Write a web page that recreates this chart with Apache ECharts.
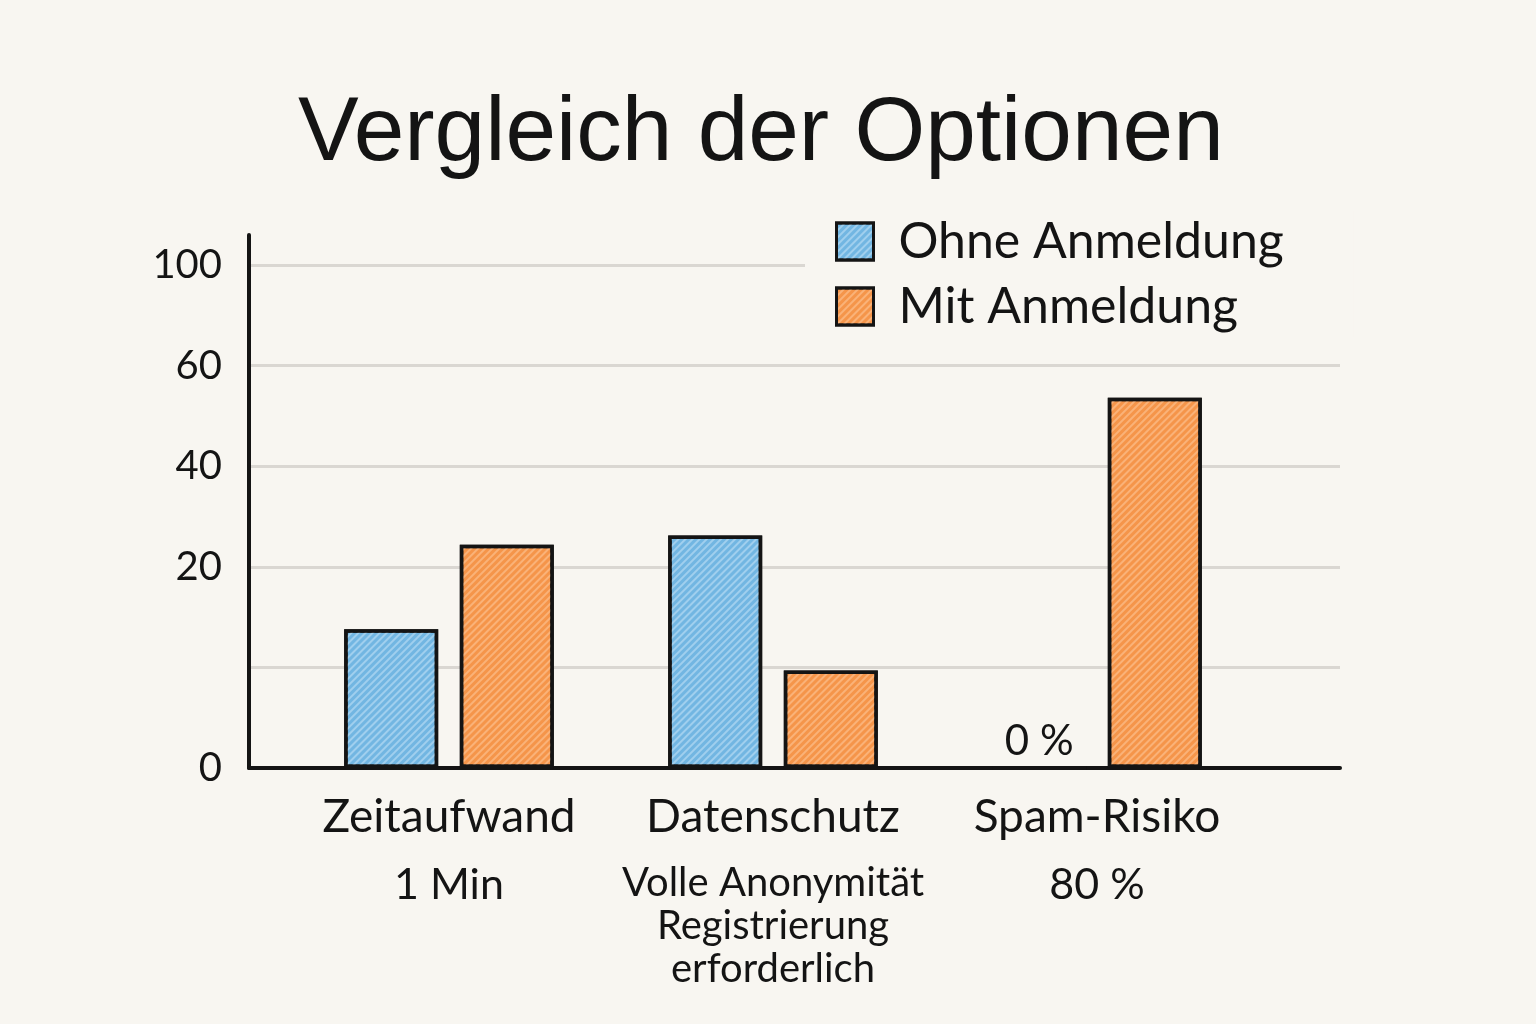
<!DOCTYPE html>
<html><head><meta charset="utf-8">
<script src="https://cdn.jsdelivr.net/npm/echarts@6/dist/echarts.min.js"></script>
<style>html,body{margin:0;padding:0;background:#f8f6f1}#c{width:1536px;height:1024px}</style>
</head><body><div id="c"></div>
<script>
// ---- data ----
const categories = ['Zeitaufwand', 'Datenschutz', 'Spam-Risiko'];
const categoryNotes = [['1 Min'], ['Volle Anonymität', 'Registrierung', 'erforderlich'], ['80 %']];
// the y axis has evenly spaced gridlines; values are given in gridline steps
const yTickLabels = ['0', '', '20', '40', '60', '100'];
const seriesNames = ['Ohne Anmeldung', 'Mit Anmeldung'];
const ohneAnmeldung = [1.38, 2.31, 0];
const mitAnmeldung = [2.22, 0.97, 3.68];
const ohneLabels = [null, null, '0 %'];

const BG = '#f8f6f1';
const INK = '#141414';
const FONT = 'Lato';

function decal(color) {
  return { symbol: 'rect', symbolSize: 1, dashArrayX: [[1, 0]], dashArrayY: [2, 3],
           rotation: -Math.PI / 4, color: color };
}

const chart = echarts.init(document.getElementById('c'), null, { renderer: 'canvas' });
chart.setOption({
  backgroundColor: BG,
  aria: { enabled: true, decal: { show: true } },
  animation: false,
  title: {
    text: 'Vergleich der Optionen', left: 293, top: 84,
    textStyle: { fontFamily: 'Liberation Sans', fontSize: 91, fontWeight: 'normal', color: INK }
  },
  legend: {
    data: seriesNames, orient: 'vertical', left: 805, top: 211.5,
    padding: [5, 70, 5, 30], backgroundColor: BG,
    itemWidth: 37, itemHeight: 37, itemGap: 15, icon: 'rect',
    itemStyle: { borderColor: INK, borderWidth: 3 },
    textStyle: { fontFamily: FONT, fontSize: 50, lineHeight: 48, color: INK, padding: [0, 0, 0, 20] }
  },
  grid: [
    { left: 249, right: 196, top: 265, bottom: 256 },
    { left: 287, right: 277, top: 265, bottom: 256 },
    { left: 249, right: 196, top: 235, bottom: 256 }
  ],
  xAxis: [
    { type: 'category', gridIndex: 0, data: categories, axisLine: { show: true, lineStyle: { color: INK, width: 4 } },
      axisTick: { show: false }, axisLabel: { show: false }, splitLine: { show: false } },
    { type: 'category', gridIndex: 1, data: categories, axisLine: { show: false }, axisTick: { show: false },
      axisLabel: {
        margin: 4, interval: 0, color: INK,
        formatter: function (value, index) {
          const notes = categoryNotes[index];
          const st = notes.length > 1 ? 'small' : 'sub';
          return '{name|' + value + '}\n' + notes.map(n => '{' + st + '|' + n + '}').join('\n');
        },
        rich: {
          name: { fontFamily: FONT, fontSize: 46, lineHeight: 90, color: INK },
          sub: { fontFamily: FONT, fontSize: 43, lineHeight: 46, color: INK },
          small: { fontFamily: FONT, fontSize: 40, lineHeight: 43, color: INK }
        }
      } },
    { type: 'category', gridIndex: 2, data: categories, show: false }
  ],
  yAxis: [
    { type: 'value', gridIndex: 0, min: 0, max: 5, interval: 1,
      axisLine: { show: false }, axisTick: { show: false },
      axisLabel: { margin: 27, fontFamily: FONT, fontSize: 40, color: INK,
                   formatter: v => (yTickLabels[v] !== undefined ? yTickLabels[v] : '') },
      splitLine: { show: true, lineStyle: { color: '#dad7d2', width: 3 } } },
    { type: 'value', gridIndex: 1, min: 0, max: 5, interval: 1, show: false, splitLine: { show: false } },
    { type: 'value', gridIndex: 2, min: 0, max: 1, show: true,
      axisLine: { show: true, lineStyle: { color: INK, width: 4 } }, axisTick: { show: false },
      axisLabel: { show: false }, splitLine: { show: false } }
  ],
  series: [
    { name: seriesNames[0], type: 'bar', xAxisIndex: 1, yAxisIndex: 1, barWidth: 94, barGap: '23%',
      itemStyle: { color: '#72b6e2', borderColor: INK, borderWidth: 3.5, decal: decal('rgba(205,232,250,0.5)') },
      label: { show: false, position: 'top', distance: 4, fontFamily: FONT, fontSize: 42, color: INK },
      data: ohneAnmeldung.map((v, i) => ohneLabels[i] ? { value: v, label: { show: true, formatter: ohneLabels[i] } } : v) },
    { name: seriesNames[1], type: 'bar', xAxisIndex: 1, yAxisIndex: 1, barWidth: 94, barGap: '23%',
      itemStyle: { color: '#f5954a', borderColor: INK, borderWidth: 3.5, decal: decal('rgba(255,208,165,0.5)') },
      data: mitAnmeldung }
  ]
});
</script></body></html>
